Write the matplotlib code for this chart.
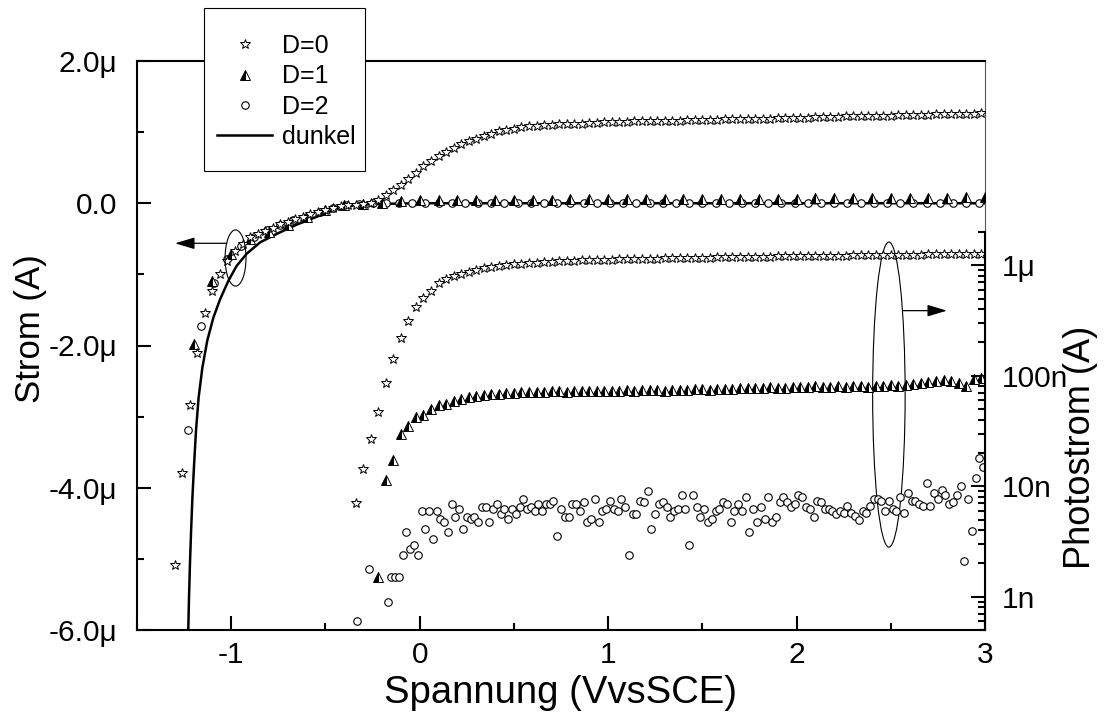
import numpy as np
import matplotlib
matplotlib.use("Agg")
import matplotlib.pyplot as plt
from matplotlib.patches import Ellipse, Rectangle
from matplotlib.ticker import FixedLocator, MultipleLocator, LogLocator, NullFormatter

plt.rcParams['font.family'] = ['Liberation Sans', 'DejaVu Sans']

# ------------------------------------------------------------------
# Daten: Strom (oben, linear, in µA)
# ------------------------------------------------------------------
# D=0, Sterne, Raster ab -1.30 V, Schritt 0.04 V
up_d0_x0, up_d0_step = -1.30, 0.04
up_d0 = [
    -5.08, -3.79, -2.83, -2.11, -1.55, -1.23, -0.99, -0.81, -0.67, -0.57,
    -0.48, -0.43, -0.39, -0.35, -0.29, -0.26, -0.22, -0.19, -0.15, -0.13,
    -0.10, -0.07, -0.035, -0.02, -0.02, -0.01, 0.01, 0.05, 0.11, 0.19,
    0.26, 0.34, 0.43, 0.52, 0.60, 0.66, 0.72, 0.78, 0.83, 0.87,
    0.91, 0.95, 0.98, 1.01, 1.03, 1.05, 1.07, 1.08, 1.09, 1.10,
    1.10, 1.11, 1.11, 1.12, 1.12, 1.13, 1.13, 1.14, 1.14, 1.14,
    1.145, 1.15, 1.15, 1.15, 1.155, 1.16, 1.16, 1.16, 1.165, 1.17,
    1.17, 1.17, 1.175, 1.18, 1.18, 1.185, 1.185, 1.19, 1.19, 1.19,
    1.195, 1.20, 1.20, 1.20, 1.205, 1.21, 1.21, 1.21, 1.215, 1.22,
    1.22, 1.22, 1.225, 1.23, 1.23, 1.23, 1.235, 1.24, 1.24, 1.24,
    1.245, 1.25, 1.25, 1.25, 1.255, 1.26, 1.26, 1.265,
]
# D=1, Dreiecke, ab -1.2 V, Schritt 0.1 V
up_d1_x0, up_d1_step = -1.2, 0.1
up_d1 = [
    -1.98, -1.09, -0.72, -0.50, -0.40, -0.30, -0.20, -0.10, -0.03, -0.01,
    0.01, 0.03, 0.04, 0.04, 0.04, 0.045, 0.05, 0.05, 0.05, 0.05,
    0.055, 0.055, 0.055, 0.055, 0.06, 0.06, 0.06, 0.06, 0.06, 0.065,
    0.065, 0.065, 0.065, 0.07, 0.07, 0.07, 0.07, 0.075, 0.075, 0.08,
    0.08, 0.085, 0.09,
]
# D=2, Kreise, ab -1.23 V, Schritt 0.07 V
up_d2_x0, up_d2_step = -1.23, 0.07
up_d2 = [
    -3.19, -1.72, -1.12, -0.78, -0.60, -0.47, -0.38, -0.30, -0.24, -0.19,
    -0.12, -0.06, -0.02, -0.01, 0.0, 0.0, 0.0, 0.0, 0.0, 0.0,
    0.0, 0.0, 0.0, 0.0, 0.0, 0.0, 0.0, 0.0, 0.0, 0.0,
    0.0, 0.0, 0.0, 0.0, 0.0, 0.0, 0.0, 0.0, 0.0, 0.0,
    0.0, 0.0, 0.0, 0.0, 0.0, 0.0, 0.0, 0.0, 0.0, 0.0,
    0.0, 0.0, 0.0, 0.0, 0.0, 0.0, 0.0, 0.0, 0.0, 0.0,
    0.0,
]
# Dunkelstrom (Linie)
dark_x = [-1.228, -1.224, -1.219, -1.213, -1.206, -1.197, -1.187, -1.173, -1.153,
          -1.127, -1.095, -1.059, -1.015, -0.971, -0.918, -0.847, -0.758, -0.652,
          -0.546, -0.44, -0.334, -0.228, 0.0, 1.0, 2.0, 3.0]
dark_y = [-6.01, -5.54, -5.07, -4.61, -4.14, -3.67, -3.20, -2.73, -2.31,
          -1.93, -1.61, -1.35, -1.09, -0.88, -0.71, -0.55, -0.43, -0.30,
          -0.19, -0.08, -0.02, -0.01, 0.0, 0.0, 0.0, 0.0]

# ------------------------------------------------------------------
# Daten: Photostrom (unten, log, in nA)
# ------------------------------------------------------------------
ph_d0_x0, ph_d0_step = -0.34, 0.04
ph_d0 = [
    7.0, 14.2, 26.5, 47, 86, 142, 220, 310, 420, 510,
    590, 690, 755, 800, 840, 875, 905, 935, 960, 985,
    1005, 1020, 1035, 1045, 1055, 1065, 1075, 1085, 1090, 1100,
    1105, 1110, 1115, 1120, 1125, 1130, 1135, 1140, 1145, 1150,
    1150, 1155, 1160, 1160, 1165, 1170, 1170, 1175, 1180, 1180,
    1185, 1190, 1190, 1195, 1200, 1200, 1205, 1205, 1210, 1210,
    1215, 1215, 1220, 1220, 1225, 1225, 1230, 1230, 1235, 1235,
    1240, 1240, 1245, 1245, 1250, 1250, 1255, 1255, 1260, 1260,
    1265, 1265, 1270, 1270,
]
ph_d1_x0, ph_d1_step = -0.22, 0.04
ph_d1 = [
    1.52, 11.3, 17.4, 30, 35, 42, 44, 50, 54, 56,
    59, 62, 64, 65.5, 67, 68, 69, 70, 70.5, 71,
    71.5, 72, 72, 72.5, 73, 72, 73, 73, 72.5, 73,
    73.5, 73, 73.5, 74, 73, 74, 74.5, 74, 73, 74.5,
    75, 74, 75.5, 76, 75, 76, 76.5, 76, 77, 78,
    77, 78, 78.5, 77.5, 78, 79, 78.5, 79, 80, 78.5,
    79.5, 80, 79, 80.5, 81, 79.5, 81, 81.5, 82, 81,
    83, 84, 86, 88, 90, 91, 89, 86, 80, 93,
    95,
]
ph_d2_x0, ph_d2_step = -0.33, 0.02
nan = np.nan
ph_d2 = [
    0.60, nan, nan, 1.79, nan, nan, nan, nan, 0.89, 1.50,
    1.50, 1.50, 2.39, 3.87, 2.70, 2.97, 2.39,
    5.91, 4.12, 5.91, 3.30, 5.91, 5.04, 4.70, 3.87, 6.84, 5.30,
    6.21, 4.12, 5.30, 5.04, 5.30, 4.70, 6.52, 6.52, 4.70, 6.21,
    6.84, 5.66, 6.21, 5.04, 6.21, 5.66, 6.52, 7.74, 6.21, 6.52,
    5.91, 6.84, 5.91, 6.84, 6.84, 7.38, 3.56, 6.21, 5.30, 5.30,
    6.84, 6.84, 5.91, 7.13, 4.70, 5.04, 7.74, 4.70, 5.91, 6.21,
    7.38, 6.21, 5.91, 7.74, 6.52, 2.39, 5.66, 5.66, 7.38, 7.13,
    9.15, 4.12, 5.66, 6.84, 7.13, 6.52, 5.30, 5.91, 6.21, 8.31,
    6.21, 2.97, 8.31, 6.52, 5.30, 6.21, 4.70, 5.04, 5.91, 6.21,
    7.13, 6.84, 4.70, 5.91, 6.84, 5.91, 7.97, 3.87, 6.21, 4.70,
    6.52, 5.04, 7.97, 4.70, 5.30, 7.13, 7.97, 7.13, 6.52, 6.84,
    8.31, 7.97, 6.52, 6.21, 5.30, 7.38, 7.13, 6.21, 6.21, 5.91,
    5.66, 6.0, 5.76, 6.56, 5.76, 5.33, 5.0, 6.0, 5.76, 6.56,
    7.7, 7.7, 7.4, 6.0, 7.4, 6.2, 6.0, 8.0, 5.76, 8.66,
    7.4, 7.4, 6.93, 6.56, 10.66, 6.56, 8.66, 7.7, 9.28, 8.36,
    6.9, 7.2, 8.36, 10.1, 2.09, 7.7, 3.9, 11.8, 17.9, 14.8,
]

x_ticks = [-1, 0, 1, 2, 3]
y_ticks = [-6, -4, -2, 0, 2]
y_ticklabels = ["-6.0\u03bc", "-4.0\u03bc", "-2.0\u03bc", "0.0", "2.0\u03bc"]
log_ticks = [1, 10, 100, 1000]
log_ticklabels = ["1n", "10n", "100n", "1\u03bc"]


def grid(x0, step, vals):
    return x0 + step * np.arange(len(vals))


star = dict(ls="none", marker="*", ms=7, mfc="white", mec="black", mew=0.7)
tri = dict(ls="none", marker="^", ms=6.5, fillstyle="left", mfc="black",
           markerfacecoloralt="white", mec="black", mew=0.7)
circ = dict(ls="none", marker="o", ms=5.4, mfc="white", mec="black", mew=0.8)

W, H = 1106, 720
fig = plt.figure(figsize=(W / 100, H / 100), dpi=100)
L, B, R, T = 137 / W, 1 - 630 / H, 985 / W, 1 - 61 / H
ax = fig.add_axes([L, B, R - L, T - B])
ax2 = fig.add_axes([L, B, R - L, (630 - 232) / H])
ax2.patch.set_visible(False)

# oberer Teil
l_dark, = ax.plot(dark_x, dark_y, color="black", lw=1.8, zorder=2)
l_d2, = ax.plot(grid(up_d2_x0, up_d2_step, up_d2), up_d2, zorder=3, **circ)
l_d1, = ax.plot(grid(up_d1_x0, up_d1_step, up_d1), up_d1, zorder=4, **tri)
l_d0, = ax.plot(grid(up_d0_x0, up_d0_step, up_d0), up_d0, zorder=5, **star)

# unterer Teil (log)
ax2.plot(grid(ph_d2_x0, ph_d2_step, ph_d2), ph_d2, **circ)
ax2.plot(grid(ph_d1_x0, ph_d1_step, ph_d1), ph_d1, **tri)
ax2.plot(grid(ph_d0_x0, ph_d0_step, ph_d0), ph_d0, **star)

for a in (ax, ax2):
    a.set_xlim(-1.5, 3)

ax.set_ylim(-6, 2)
ax.xaxis.set_major_locator(FixedLocator(x_ticks))
ax.xaxis.set_minor_locator(MultipleLocator(0.5))
ax.set_xticklabels([str(v) for v in x_ticks])
ax.yaxis.set_major_locator(FixedLocator(y_ticks))
ax.yaxis.set_minor_locator(MultipleLocator(1))
ax.set_yticklabels(y_ticklabels)
ax.tick_params(which="both", direction="in", top=False, right=False, width=1.5)
ax.tick_params(which="major", length=10)
ax.tick_params(which="minor", length=5)
ax.tick_params(axis="y", labelsize=21.5, pad=14)
ax.tick_params(axis="x", labelsize=21.5, pad=8)
for s in ("left", "bottom", "top"):
    ax.spines[s].set_linewidth(1.5)
ax.spines["right"].set_linewidth(0.8)
ax.spines["right"].set_color("#555555")

ax.set_xlabel("Spannung (VvsSCE)", fontsize=27.5)
ax.set_ylabel("Strom (A)", fontsize=25)
ax.yaxis.set_label_coords(-0.106, 0.529)

ax2.set_yscale("log")
ax2.set_ylim(0.5, 2000)
ax2.yaxis.tick_right()
ax2.yaxis.set_label_position("right")
ax2.yaxis.set_major_locator(FixedLocator(log_ticks))
ax2.yaxis.set_minor_locator(LogLocator(base=10, subs=np.arange(2, 10)))
ax2.yaxis.set_minor_formatter(NullFormatter())
ax2.set_yticklabels(log_ticklabels)
ax2.set_xticks([])
for s in ("left", "bottom", "top"):
    ax2.spines[s].set_visible(False)
ax2.spines["right"].set_linewidth(1.5)
ax2.tick_params(which="both", direction="in", left=False, right=True, width=1.5)
ax2.tick_params(which="major", length=10, labelsize=21.5, pad=12)
ax2.tick_params(which="minor", length=5)
ax2.set_ylabel("Photostrom (A)", fontsize=26)
ax2.yaxis.set_label_coords(1.092, 0.4585)

# Ellipsen und Pfeile
ax.add_patch(Ellipse((-0.977, -0.77), 0.111, 0.79, fill=False, lw=0.8, zorder=6))
ax.add_patch(Ellipse((2.49, -2.69), 0.1725, 4.29, fill=False, lw=0.8, zorder=6))
arr = dict(arrowstyle="-|>,head_length=0.6,head_width=0.18", color="black",
           lw=0.9, mutation_scale=20, shrinkA=0, shrinkB=0)
ax.annotate("", xy=(-1.298, -0.563), xytext=(-1.024, -0.563), arrowprops=arr)
ax.annotate("", xy=(2.798, -1.51), xytext=(2.564, -1.51), arrowprops=arr)

# Legende
fig.add_artist(Rectangle((204 / W, 1 - 171 / H), (365 - 204) / W, (171 - 8) / H,
                         transform=fig.transFigure, fc="white", ec="black",
                         lw=0.8, zorder=3))
fig.legend([l_d0, l_d1, l_d2, l_dark], ["D=0", "D=1", "D=2", "dunkel"],
           loc="upper left", bbox_to_anchor=(217 / W, 1 - 34 / H),
           bbox_transform=fig.transFigure, frameon=False, fontsize=18,
           handlelength=2.2, handletextpad=0.4, labelspacing=0.25,
           borderpad=0, borderaxespad=0, numpoints=1)

fig.savefig("out.png", dpi=100)
